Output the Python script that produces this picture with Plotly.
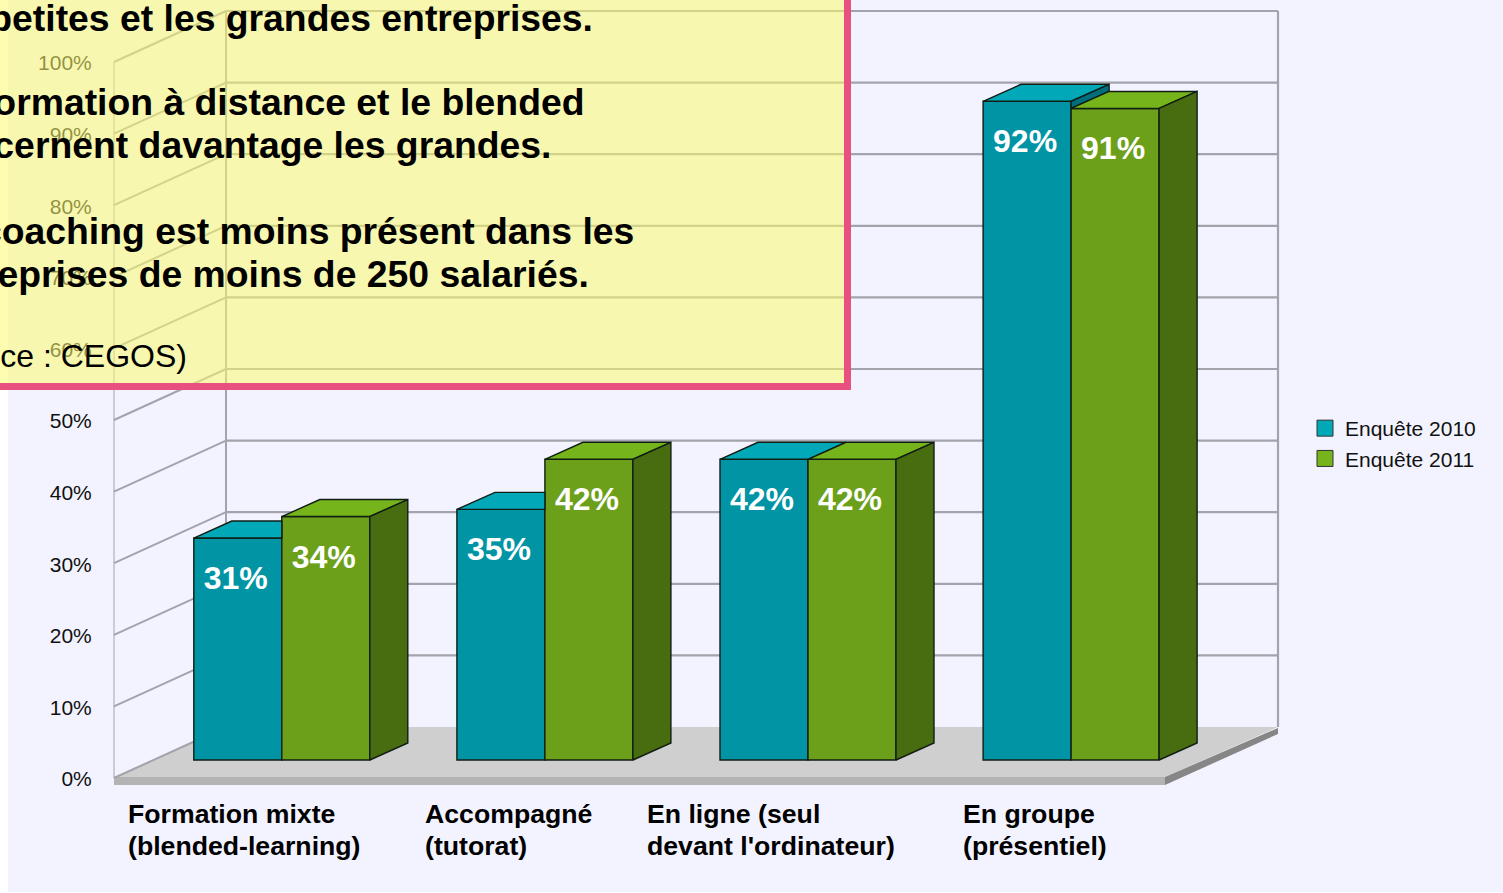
import plotly.graph_objects as go

categories = [["Formation mixte", "(blended-learning)"],
              ["Accompagné", "(tutorat)"],
              ["En ligne (seul", "devant l'ordinateur)"],
              ["En groupe", "(présentiel)"]]
series_names = ["Enquête 2010", "Enquête 2011"]
values_2010 = [31, 35, 42, 92]
values_2011 = [34, 42, 42, 91]
y_ticks = [0, 10, 20, 30, 40, 50, 60, 70, 80, 90, 100]
note_lines = [("les petites et les grandes entreprises.", 18, True),
              ("La formation à distance et le blended", 102, True),
              ("concernent davantage les grandes.", 145, True),
              ("Le coaching est moins présent dans les", 231, True),
              ("entreprises de moins de 250 salariés.", 274, True),
              ("(Source : CEGOS)", 356, False)]

W, H = 1503, 893
FONT = "Liberation Sans, Arial, sans-serif"
X0, XS = 281.8, 263.1  # pixel of group 0 centre, pixels per group
Y0, YS = 760, 7.16     # pixel of 0 % at the bar base, pixels per percent


def dx(px):
    return px / XS


def dy(px):
    return px / YS


def xp(px):
    return (px - X0) / XS


def yp(py):
    return (Y0 - py) / YS


BAR_W = dx(88)
DEPTH_X, DEPTH_Y = dx(38), dy(17)
TEAL = ("#0094A4", "#00A8B8", "#006E7C")
GREEN = ("#6CA01A", "#76B41C", "#486C10")
EDGE = "#101E14"
GRID = "#A3A3AB"

x_groups = list(range(len(categories)))
fig = go.Figure()

# front faces
for name, vals, col, off in [(series_names[0], values_2010, TEAL, -BAR_W),
                             (series_names[1], values_2011, GREEN, 0)]:
    fig.add_trace(go.Bar(x=x_groups, y=vals, width=BAR_W, offset=off, name=name,
                         marker=dict(color=col[0], line=dict(color=EDGE, width=1.4)),
                         showlegend=False, hoverinfo="skip"))


def face(xs, ys, color):
    fig.add_trace(go.Scatter(x=xs + xs[:1], y=ys + ys[:1], mode="lines", fill="toself",
                             fillcolor=color, line=dict(color=EDGE, width=1.4),
                             showlegend=False, hoverinfo="skip"))


# top and side faces
for i, a, b in zip(x_groups, values_2010, values_2011):
    xl, xm, xr = i - BAR_W, i, i + BAR_W
    if b >= a + DEPTH_Y:
        face([xl, xm, xm, xl + DEPTH_X], [a, a, a + DEPTH_Y, a + DEPTH_Y], TEAL[1])
    else:
        face([xl, xm, xm + DEPTH_X, xl + DEPTH_X], [a, a, a + DEPTH_Y, a + DEPTH_Y], TEAL[1])
    if a > b:
        face([xm, xm, xm + DEPTH_X, xm + DEPTH_X], [b, a, a + DEPTH_Y, b + DEPTH_Y], TEAL[2])
    face([xm, xr, xr + DEPTH_X, xm + DEPTH_X], [b, b, b + DEPTH_Y, b + DEPTH_Y], GREEN[1])
    face([xr, xr + DEPTH_X, xr + DEPTH_X, xr], [0, DEPTH_Y, b + DEPTH_Y, b], GREEN[2])

# value labels
for vals, off in [(values_2010, -BAR_W / 2), (values_2011, BAR_W / 2)]:
    fig.add_trace(go.Scatter(x=[i + off - dx(2) for i in x_groups], y=[v - dy(43) for v in vals],
                             mode="text", text=[f"{v}%" for v in vals], textposition="middle center",
                             textfont=dict(family=FONT, size=32, color="white", weight="bold"),
                             showlegend=False, hoverinfo="skip"))

# legend entries
for name, col in [(series_names[0], TEAL), (series_names[1], GREEN)]:
    fig.add_trace(go.Scatter(x=[None], y=[None], mode="markers", name=name,
                             marker=dict(symbol="square", size=16, color=col[1],
                                         line=dict(color="#333", width=1)),
                             hoverinfo="skip"))

# trace that keeps the front-plane value axis alive
fig.add_trace(go.Scatter(x=[None], y=[None], yaxis="y2", showlegend=False, hoverinfo="skip"))

shapes = []
# page background
shapes.append(dict(type="rect", xref="paper", yref="paper", x0=8 / W, x1=1, y0=1 - 892 / H, y1=1,
                   fillcolor="#F3F3FF", line_width=0, layer="below"))


def poly(points, color):
    path = "M" + " L".join(f"{xp(x)},{yp(y)}" for x, y in points) + " Z"
    shapes.append(dict(type="path", path=path, xref="x", yref="y", fillcolor=color,
                       line_width=0, layer="below"))


def seg(x0, y0, x1, y1, width):
    shapes.append(dict(type="line", xref="x", yref="y", x0=x0, y0=y0, x1=x1, y1=y1,
                       line=dict(color=GRID, width=width), layer="below"))


# floor slab
poly([(114, 777), (1165, 777), (1278, 727), (226, 727)], "#CFCFCF")
poly([(114, 777), (1165, 777), (1165, 785), (114, 785)], "#B3B3B3")
poly([(1165, 777), (1278, 728), (1278, 734), (1165, 785)], "#868686")

# walls and gridlines, from the tick values
BACK_L, BACK_R, FRONT_L = xp(226), xp(1278), xp(114)
BACK_OFF, FRONT_OFF = dy(33), dy(-18)
for t in y_ticks:
    back = t + BACK_OFF
    seg(FRONT_L, t + FRONT_OFF, BACK_L, back, 2)
    if t > 0:
        seg(BACK_L, back, BACK_R, back, 2.2)
seg(FRONT_L, FRONT_OFF, FRONT_L, y_ticks[-1] + FRONT_OFF, 1)
seg(BACK_L, BACK_OFF, BACK_L, y_ticks[-1] + BACK_OFF, 2)
seg(BACK_R, BACK_OFF, BACK_R, y_ticks[-1] + BACK_OFF, 2.2)

# translucent note box
shapes.append(dict(type="rect", xref="paper", yref="paper",
                   x0=-20 / W, x1=847.5 / W, y0=1 - 386.5 / H, y1=1 + 20 / H,
                   fillcolor="rgba(252,250,110,0.55)",
                   line=dict(color="#E8507F", width=7), layer="above"))

annotations = []
for text, py, bold in note_lines:
    annotations.append(dict(xref="paper", yref="paper", x=(-75 if bold else -80) / W, y=1 - py / H,
                            text=text, showarrow=False, xanchor="left", yanchor="middle",
                            font=dict(family=FONT, size=37.33 if bold else 32, color="#000",
                                      weight="bold" if bold else "normal")))

label_left_px = [126, 423, 645, 961]
for lines, left in zip(categories, label_left_px):
    for line, py in zip(lines, [814, 846]):
        annotations.append(dict(xref="paper", yref="paper", x=left / W, y=1 - py / H,
                                text=line, showarrow=False, xanchor="left", yanchor="middle",
                                font=dict(family=FONT, size=26.67, color="#000", weight="bold")))

fig.update_layout(
    width=W, height=H, margin=dict(l=0, r=0, t=0, b=0, pad=0),
    paper_bgcolor="white", plot_bgcolor="rgba(0,0,0,0)",
    barmode="overlay", shapes=shapes, annotations=annotations,
    xaxis=dict(range=[xp(0), xp(W)], visible=False, fixedrange=True),
    yaxis=dict(range=[yp(H), yp(0)], visible=False, fixedrange=True),
    yaxis2=dict(range=[(779 - H) / YS, 779 / YS], overlaying="y", anchor="free", position=114 / W,
                side="left", tickmode="array", tickvals=y_ticks, ticktext=[f"{t}%" for t in y_ticks],
                showgrid=False, zeroline=False, showline=False, ticks="outside", ticklen=18,
                tickcolor="rgba(0,0,0,0)", tickfont=dict(family=FONT, size=21, color="#111"),
                fixedrange=True),
    legend=dict(x=1305 / W, y=1 - 408 / H, xanchor="left", yanchor="top",
                bgcolor="rgba(0,0,0,0)", font=dict(family=FONT, size=21, color="#111"),
                itemwidth=30, tracegroupgap=0),
)

fig.write_html("out.html", config=dict(displayModeBar=False),
               post_script="document.body.style.margin='0';document.body.style.overflow='hidden';")
